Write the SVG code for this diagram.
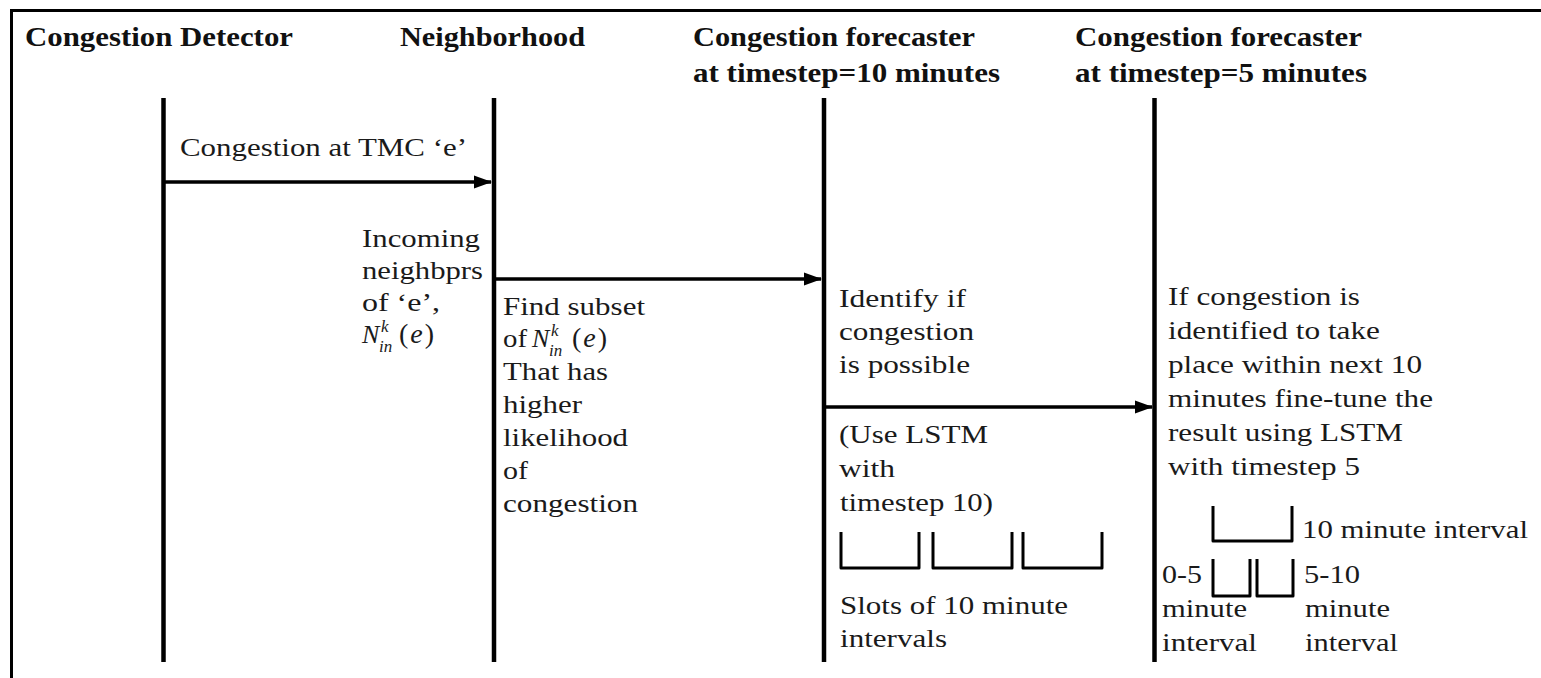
<svg xmlns="http://www.w3.org/2000/svg" width="1541" height="678" viewBox="0 0 1541 678">
<defs>
<style>
.h{font-family:"Liberation Serif","Times New Roman",serif;font-weight:bold;font-size:27px;fill:#111}
.t{font-family:"Liberation Serif","Times New Roman",serif;font-size:26px;fill:#1a1a1a}
.mi{font-style:italic}
.sm{font-size:17px}
.life{stroke:#000;stroke-width:4.5;fill:none}
.msg{stroke:#000;stroke-width:3.5;fill:none;marker-end:url(#ah)}
.br{fill:none;stroke:#000;stroke-width:3;stroke-linejoin:round}
.frame{fill:none;stroke:#000;stroke-width:3}
</style>
<marker id="ah" markerUnits="userSpaceOnUse" markerWidth="18" markerHeight="14" refX="17" refY="7" orient="auto">
<path d="M0,0.5 L18,7 L0,13.5 z" fill="#000"/>
</marker>
</defs>
<rect width="1541" height="678" fill="#fff"/>
<rect class="frame" x="11.5" y="10.5" width="1600" height="700"/>

<g id="detector">
<text class="h" x="25" y="46" textLength="268" lengthAdjust="spacingAndGlyphs">Congestion Detector</text>
<line class="life" x1="163.5" y1="98" x2="163.5" y2="662"/>
</g>

<g id="neighborhood">
<text class="h" x="400" y="46" textLength="185" lengthAdjust="spacingAndGlyphs">Neighborhood</text>
<line class="life" x1="494" y1="98" x2="494" y2="662"/>
<text class="t" x="362" y="247" textLength="118" lengthAdjust="spacingAndGlyphs">Incoming</text>
<text class="t" x="362" y="279" textLength="121" lengthAdjust="spacingAndGlyphs">neighbprs</text>
<text class="t" x="362" y="311" textLength="78" lengthAdjust="spacingAndGlyphs">of ‘e’,</text>
<text class="t mi" x="362" y="343">N</text>
<text class="t mi sm" x="381" y="332">k</text>
<text class="t mi sm" x="379" y="352">in</text>
<text class="t" x="399" y="343" style="font-size:28px">(<tspan class="mi" dx="2">e</tspan><tspan dx="2">)</tspan></text>
<text class="t" x="503" y="315" textLength="142" lengthAdjust="spacingAndGlyphs">Find subset</text>
<text class="t" x="503" y="347" textLength="24" lengthAdjust="spacingAndGlyphs">of</text>
<text class="t mi" x="532" y="347">N</text>
<text class="t mi sm" x="551" y="336">k</text>
<text class="t mi sm" x="549" y="356">in</text>
<text class="t" x="572" y="347" style="font-size:28px">(<tspan class="mi" dx="2">e</tspan><tspan dx="2">)</tspan></text>
<text class="t" x="503" y="380" textLength="105" lengthAdjust="spacingAndGlyphs">That has</text>
<text class="t" x="503" y="413" textLength="79" lengthAdjust="spacingAndGlyphs">higher</text>
<text class="t" x="503" y="446" textLength="125" lengthAdjust="spacingAndGlyphs">likelihood</text>
<text class="t" x="503" y="479" textLength="25" lengthAdjust="spacingAndGlyphs">of</text>
<text class="t" x="503" y="512" textLength="135" lengthAdjust="spacingAndGlyphs">congestion</text>
</g>

<g id="forecaster10">
<text class="h" x="693" y="46" textLength="282" lengthAdjust="spacingAndGlyphs">Congestion forecaster</text>
<text class="h" x="693" y="82" textLength="307" lengthAdjust="spacingAndGlyphs">at timestep=10 minutes</text>
<line class="life" x1="824" y1="98" x2="824" y2="662"/>
<text class="t" x="839" y="307" textLength="127" lengthAdjust="spacingAndGlyphs">Identify if</text>
<text class="t" x="839" y="340" textLength="135" lengthAdjust="spacingAndGlyphs">congestion</text>
<text class="t" x="839" y="373" textLength="131" lengthAdjust="spacingAndGlyphs">is possible</text>
<text class="t" x="839" y="443" textLength="149" lengthAdjust="spacingAndGlyphs">(Use LSTM</text>
<text class="t" x="839" y="477" textLength="56" lengthAdjust="spacingAndGlyphs">with</text>
<text class="t" x="840" y="511" textLength="153" lengthAdjust="spacingAndGlyphs">timestep 10)</text>
<path class="br" d="M841,532 V568 H919 V532"/>
<path class="br" d="M933,532 V568 H1012 V532"/>
<path class="br" d="M1023,532 V568 H1102 V532"/>
<text class="t" x="840" y="614" textLength="228" lengthAdjust="spacingAndGlyphs">Slots of 10 minute</text>
<text class="t" x="840" y="647" textLength="107" lengthAdjust="spacingAndGlyphs">intervals</text>
</g>

<g id="forecaster5">
<text class="h" x="1075" y="46" textLength="287" lengthAdjust="spacingAndGlyphs">Congestion forecaster</text>
<text class="h" x="1075" y="82" textLength="292" lengthAdjust="spacingAndGlyphs">at timestep=5 minutes</text>
<line class="life" x1="1154.5" y1="98" x2="1154.5" y2="662"/>
<text class="t" x="1168" y="305" textLength="192" lengthAdjust="spacingAndGlyphs">If congestion is</text>
<text class="t" x="1168" y="339" textLength="212" lengthAdjust="spacingAndGlyphs">identified to take</text>
<text class="t" x="1168" y="373" textLength="254" lengthAdjust="spacingAndGlyphs">place within next 10</text>
<text class="t" x="1168" y="407" textLength="265" lengthAdjust="spacingAndGlyphs">minutes fine-tune the</text>
<text class="t" x="1168" y="441" textLength="235" lengthAdjust="spacingAndGlyphs">result using LSTM</text>
<text class="t" x="1168" y="475" textLength="192" lengthAdjust="spacingAndGlyphs">with timestep 5</text>
<path class="br" d="M1213,506 V541 H1292 V506"/>
<text class="t" x="1302" y="538" textLength="226" lengthAdjust="spacingAndGlyphs">10 minute interval</text>
<path class="br" d="M1213,559 V596 H1250 V559"/>
<path class="br" d="M1257,559 V596 H1293 V559"/>
<text class="t" x="1162" y="583" textLength="40" lengthAdjust="spacingAndGlyphs">0-5</text>
<text class="t" x="1304" y="583" textLength="56" lengthAdjust="spacingAndGlyphs">5-10</text>
<text class="t" x="1162" y="617" textLength="85" lengthAdjust="spacingAndGlyphs">minute</text>
<text class="t" x="1305" y="617" textLength="85" lengthAdjust="spacingAndGlyphs">minute</text>
<text class="t" x="1162" y="651" textLength="95" lengthAdjust="spacingAndGlyphs">interval</text>
<text class="t" x="1305" y="651" textLength="93" lengthAdjust="spacingAndGlyphs">interval</text>
</g>

<g id="connectors">
<line class="msg" x1="163.5" y1="182" x2="491" y2="182"/>
<text class="t" x="180" y="156" textLength="287" lengthAdjust="spacingAndGlyphs">Congestion at TMC ‘e’</text>
<line class="msg" x1="494" y1="279" x2="821" y2="279"/>
<line class="msg" x1="824" y1="407" x2="1152" y2="407"/>
</g>
</svg>
